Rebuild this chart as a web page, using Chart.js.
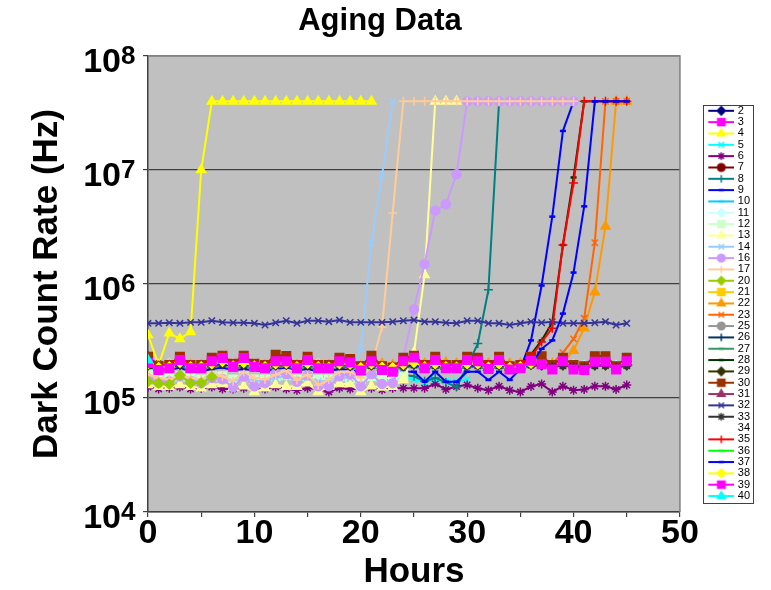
<!DOCTYPE html>
<html>
<head>
<meta charset="utf-8">
<script src="https://cdn.jsdelivr.net/npm/chart.js@4/dist/chart.umd.min.js"></script>
<style>
html,body{margin:0;padding:0;background:#ffffff;}
#wrap{width:771px;height:590px;}
</style>
</head>
<body>
<div id="wrap"><canvas id="c" width="771" height="590"></canvas></div>
<script>
// ---------------- DATA ----------------
// Dark count rates are written in units of 10^5 Hz (UNIT).
const UNIT = 1e5;
const hours = [0,1,2,3,4,5,6,7,8,9,10,11,12,13,14,15,16,17,18,19,20,21,22,23,24,25,26,27,28,29,30,31,32,33,34,35,36,37,38,39,40,41,42,43,44,45];

const s2  = [2.0,1.9,1.92,2.0,1.9,1.92,2.0,2.05,1.95,2.0, 1.95,1.92,2.0,2.02,1.92,2.0,1.92,1.9,2.0,1.98, 1.88,1.98,1.9,1.88,1.95,2.02,1.9,2.0,1.92,1.9, 2.0,1.98,1.9,1.98,1.88,1.92,2.0];
const s3  = [2.1,1.8,1.85,2.2,1.85,1.85,2.15,2.2,1.9,2.2, 1.9,1.85,2.1,2.15,1.85,2.1,1.85,1.85,2.15,2.1, 1.8,2.1,1.8,1.75,2.1,2.2,1.85,2.1,1.85,1.85, 2.1,2.15,1.85,2.1,1.8,1.85,2.1];
const s4  = [3.57,1.95,3.7,3.3,3.8,100,400,400,400,400, 400,400,400,400,400,400,400,400,400,400, 400,400];
const s5  = [1.55,1.45,1.42,1.5,1.45,1.4,1.5,1.48,1.38,1.5, 1.4,1.38,1.48,1.52,1.4,1.5,1.38,1.4,1.5,1.45, 1.38,1.5,1.42,1.46,1.5,1.45,1.38,1.45,1.4,1.4, 1.45];
const s6  = [1.25,1.2,1.22,1.25,1.2,1.22,1.25,1.2,1.2,1.22, 1.18,1.2,1.25,1.2,1.17,1.22,1.2,1.13,1.22,1.2, 1.2,1.22,1.18,1.22,1.22,1.22,1.22,1.33,1.19,1.26, 1.30,1.22,1.17,1.27,1.17,1.13,1.26,1.33,1.13,1.27, 1.17,1.19,1.27,1.27,1.19,1.30];
const s7  = [2.3,1.95,1.95,2.2,1.95,1.95,2.15,2.25,1.95,2.2, 1.95,1.9,2.15,2.2,1.9,2.2,1.95,1.9,2.15,2.1, 1.9,2.15,1.9,1.85,2.1,2.25,1.95,2.15,1.9,1.9, 2.15,2.15,1.9,2.15,1.9,1.95,2.15];
const s8  = [1.55,1.5,1.45,1.55,1.5,1.45,1.6,1.52,1.42,1.55, 1.45,1.42,1.55,1.58,1.45,1.55,1.42,1.45,1.55,1.52, 1.4,1.55,1.45,1.5,1.6,1.55,1.4,1.5,1.37,1.25, 1.9,3.0,8.9,400,400,400,400,400,400,400, 400];
const s9  = [1.85,1.8,1.75,1.85,1.7,1.7,1.8,1.85,1.75,1.8, 1.75,1.7,1.8,1.85,1.75,1.8,1.7,1.72,1.8,1.78, 1.65,1.6,1.47,1.6,1.7,1.7,1.39,1.7,1.39,1.39, 1.7,1.7,1.44,1.7,1.44,1.8,3.2,9.7,39,220, 400];
const s10 = [2.2,1.85,1.8,1.95,1.8,1.8,1.95,2.0,1.8,1.95, 1.8,1.8,1.9,1.95,1.8,1.9,1.8,1.78,1.9,1.88, 1.75,1.9,1.78,1.75,1.88,1.95,1.8,1.9,1.8,1.78, 1.9,1.9,1.78,1.9,1.76,1.8,1.92];
const s11 = [2.05,1.95,2.0,2.1,1.95,1.95,2.05,2.1,2.0,2.1, 2.0,1.95,2.05,2.05,1.95,2.05,2.0,1.95,2.05,2.05, 1.9,2.05,1.95,1.9,2.0,2.1,1.95,2.05,1.95,1.95, 2.05,2.05,1.95,2.05,1.9,1.95,2.05,2.02,2.0,2.02, 1.95,1.92,2.02,2.02,1.92,2.02];
const s12 = [1.6,1.5,1.48,1.55,1.5,1.45,1.55,1.55,1.45,1.55, 1.45,1.45,1.55,1.58,1.45,1.55,1.45,1.45,1.55,1.5, 1.42,1.55,1.48,1.5,1.55];
const s13 = [1.3,1.26,1.26,1.30,1.26,1.22,1.30,1.33,1.24,1.27, 1.13,1.22,1.30,1.26,1.26,1.35,1.13,1.26,1.33,1.33, 1.13,1.27,1.24,1.26,1.44,2.5,12,400,400,400];
const s14 = [1.5,1.42,1.4,1.52,1.45,1.4,1.55,1.5,1.38,1.52, 1.42,1.4,1.5,1.55,1.42,1.5,1.4,1.42,1.52,1.48, 2.75,23,90,400];
const s16 = [1.49,1.36,1.4,1.55,1.4,1.35,1.5,1.46,1.24,1.54, 1.27,1.35,1.65,1.62,1.39,1.58,1.27,1.27,1.55,1.62, 1.27,1.62,1.33,1.35,2.23,6,15,44,50,92, 400,400,400,400,400,400,400,400,400,400, 400];
const s17 = [1.6,1.5,1.45,1.6,1.5,1.45,1.65,1.55,1.4,1.7, 1.5,1.45,1.6,1.75,1.44,1.6,1.3,1.45,1.7,1.7, 1.5,1.9,4.2,42,400,400,400,400,400,400, 400,400,400,400,400,400,400,400,400,400, 400];
const s20 = [1.39,1.35,1.32,1.58,1.35,1.36,1.53];
const s21 = [2.05,1.85,1.9,2.1,1.9,1.88,2.05,2.15,1.9,2.1, 1.9,1.88,2.05,2.05,1.88,2.1,1.88,1.88,2.05,2.0, 1.85,2.05,1.88,1.85,2.05,2.15,1.9,2.05,1.9,1.88, 2.05,2.05,1.88,2.05,1.85,1.9,2.05];
const s22 = [2.05,1.9,1.95,2.1,1.95,1.95,2.05,2.15,1.95,2.1, 1.95,1.95,2.05,2.1,1.95,2.1,1.95,1.95,2.05,2.05, 1.9,2.1,2.0,1.95,2.05,2.15,2.0,2.05,2.05,2.0, 2.1,2.1,2.0,2.1,2.0,2.0,2.1,2.05,2.0,2.05, 2.6,4.1,8.5,32,400,400];
const s23 = [2.0,1.9,1.92,2.05,1.92,1.92,2.0,2.1,1.92,2.05, 1.92,1.92,2.0,2.05,1.92,2.05,1.92,1.9,2.0,2.0, 1.88,2.05,1.95,1.9,2.0,2.1,1.95,2.0,2.0,1.95, 2.05,2.05,1.95,2.05,1.95,1.95,2.05,2.0,2.0,2.5, 3.3,5.0,23,400,400,400];
const s25 = [2.0,1.9,1.9,2.05,1.9,1.9,2.0,2.1,1.92,2.05, 1.92,1.9,2.0,2.02,1.9,2.02,1.9,1.9,2.0,2.0, 1.85,2.0,1.88,1.85,2.0,2.05,1.9,2.0,1.9,1.88, 2.0,2.0,1.88,2.0,1.86,1.9,2.0];
const s26 = [1.95,1.88,1.9,1.98,1.88,1.9,1.95,2.0,1.9,1.98, 1.9,1.88,1.95,1.98,1.88,1.95,1.88,1.86,1.95,1.92, 1.85,1.95,1.86,1.84,1.92,1.98,1.86,1.95,1.88,1.86, 1.95,1.95,1.86,1.95,1.85,1.88,2.0];
const s27 = [1.9,1.8,1.82,1.9,1.8,1.8,1.88,1.92,1.82,1.9, 1.82,1.8,1.88,1.9,1.8,1.88,1.8,1.8,1.88,1.85, 1.78,1.88,1.8,1.78,1.85,1.9,1.8,1.88,1.8,1.78, 1.88,1.88,1.78,1.88,1.78,1.8,1.92];
const s28 = [2.0,1.92,1.92,2.0,1.92,1.92,2.0,2.02,1.92,2.0, 1.92,1.9,2.0,2.0,1.9,2.0,1.9,1.9,1.98,1.96, 1.88,1.98,1.9,1.88,1.95,2.0,1.9,1.98,1.9,1.9, 1.98,1.98,1.9,1.98,1.88,1.95,2.4,3.2,4.6,22, 86,400,400,400,400,400];
const s29 = [1.95,1.88,1.9,1.98,1.88,1.88,1.95,2.0,1.9,1.98, 1.9,1.88,1.95,1.98,1.88,1.95,1.88,1.88,1.95,1.92, 1.85,1.95,1.88,1.85,1.92,1.98,1.88,1.95,1.88,1.88, 1.95,1.95,1.88,1.95,1.86,1.88,1.98,1.95,1.9,1.95, 1.9,1.88,1.95,1.95,1.88,1.95];
const s30 = [2.3,1.9,1.95,2.3,1.95,1.95,2.25,2.35,2.0,2.35, 2.0,1.95,2.39,2.34,1.95,2.3,1.95,1.95,2.25,2.2, 1.9,2.35,1.9,1.85,2.25,2.35,1.95,2.3,1.95,1.95, 2.3,2.25,1.95,2.3,1.9,1.95,2.3,2.33,1.95,2.25, 1.95,1.9,2.33,2.33,1.9,2.25];
const s31 = [1.98,1.85,1.88,2.0,1.88,1.88,1.98,2.05,1.9,2.02, 1.9,1.88,1.98,2.0,1.88,2.0,1.88,1.86,1.98,1.95, 1.84,1.98,1.86,1.84,1.95,2.02,1.88,1.98,1.88,1.86, 1.98,1.98,1.86,1.98,1.85,1.88,2.0];
const s32 = [4.52,4.52,4.57,4.52,4.61,4.61,4.76,4.61,4.57,4.57, 4.52,4.37,4.57,4.76,4.52,4.76,4.76,4.67,4.83,4.61, 4.61,4.61,4.61,4.67,4.76,4.83,4.67,4.67,4.57,4.52, 4.76,4.76,4.52,4.52,4.37,4.52,4.67,4.57,4.67,4.52, 4.52,4.52,4.57,4.67,4.37,4.52];
const s33 = [1.92,1.85,1.88,1.95,1.85,1.85,1.92,1.98,1.88,1.95, 1.88,1.85,1.92,1.95,1.85,1.92,1.85,1.85,1.92,1.9, 1.82,1.92,1.85,1.82,1.9,1.95,1.85,1.92,1.85,1.85, 1.92,1.92,1.85,1.92,1.83,1.86,1.95,1.92,1.88,1.92, 1.88,1.85,1.92,1.92,1.85,1.92];
const s34 = [];
const s35 = [2.15,1.9,1.95,2.3,1.95,1.9,2.2,2.3,1.95,2.25, 1.95,1.9,2.2,2.2,1.95,2.3,1.95,1.9,2.2,2.15, 1.85,2.15,1.9,1.85,2.1,2.3,1.95,2.2,1.95,1.9, 2.2,2.2,1.95,2.2,1.9,1.95,2.3,3.1,4.1,22, 77,400,400,400,400,400];
const s36 = [1.95,1.85,1.85,1.95,1.85,1.85,1.92,1.98,1.85,1.95, 1.85,1.85,1.92,1.95,1.85,1.92,1.85,1.83,1.92,1.9, 1.8,1.92,1.83,1.8,1.9,1.95,1.83,1.92,1.83,1.82, 1.92,1.92,1.82,1.92,1.8,1.84,1.95];
const s37 = [1.95,1.9,1.88,1.95,1.88,1.88,1.95,1.98,1.9,1.95, 1.9,1.88,1.95,1.95,1.88,1.95,1.88,1.88,1.95,1.92, 1.85,1.92,1.88,1.85,1.9,1.95,1.86,1.92,1.86,1.86, 1.92,1.92,1.86,1.92,1.85,1.88,1.95,2.7,3.2,5.5, 12.6,48,400,400,400,400];
const s38 = [2.0,1.85,1.88,2.05,1.88,1.88,2.0,2.1,1.9,2.05, 1.9,1.88,2.0,2.02,1.88,2.02,1.88,1.86,2.0,1.98, 1.84,2.0,1.86,1.84,1.98,2.05,1.88,2.0,1.88,1.86, 2.0,2.0,1.86,2.0,1.85,1.88,2.02];
const s39 = [2.03,1.76,1.82,2.15,1.82,1.82,2.10,2.24,1.88,2.24, 1.88,1.82,2.10,2.10,1.82,2.15,1.82,1.82,2.10,2.05, 1.74,2.10,1.76,1.70,2.10,2.26,1.82,2.15,1.82,1.82, 2.15,2.10,1.80,2.15,1.78,1.82,2.12,1.98,1.78,2.10, 1.78,1.76,2.08,2.08,1.78,2.10];
const s40 = [2.15];

const seriesNames  = ['2','3','4','5','6','7','8','9','10','11','12','13','14','16','17','20','21','22','23','25','26','27','28','29','30','31','32','33','34','35','36','37','38','39','40'];
const seriesValues = [s2,s3,s4,s5,s6,s7,s8,s9,s10,s11,s12,s13,s14,s16,s17,s20,s21,s22,s23,s25,s26,s27,s28,s29,s30,s31,s32,s33,s34,s35,s36,s37,s38,s39,s40];

// y tick labels are "10" with a superscript exponent
const yTickValues = [1e4,1e5,1e6,1e7,1e8];
const yTickBase   = ['10','10','10','10','10'];
const yTickExp    = ['4','5','6','7','8'];
const xTickLabels = ['0','10','20','30','40','50'];

// ---------------- STYLES ----------------
const seriesColors = ['#000080','#FF00FF','#FFFF00','#00FFFF','#800080','#800000','#008080','#0000FF','#00CCFF','#CCFFFF','#CCFFCC','#FFFF99','#99CCFF','#CC99FF','#FFCC99','#99CC00','#FFCC00','#FF9900','#FF6600','#969696','#003366','#339966','#003300','#333300','#993300','#993366','#333399','#333333',null,'#FF0000','#00FF00','#0000FF','#FFFF00','#FF00FF','#00FFFF'];
const seriesMarkers = ['rectRot','rect','triangle','crossRot','star','circle','cross','line','line','rectRot','rect','triangle','crossRot','circle','cross','rectRot','rect','triangle','crossRot','circle','cross','line','line','rectRot','rect','triangle','crossRot','star',null,'cross','line','line','rectRot','rect','triangle'];
const markerSize = {rectRot:4.8, rect:6, triangle:5.2, crossRot:4.5, star:4.5, circle:4.5, cross:4.5, line:3};

const FONT = "'Liberation Sans', Arial, Helvetica, sans-serif";
Chart.defaults.font.family = FONT;
Chart.defaults.color = '#000';

function makeIcon(col, mk) {
  const c = document.createElement('canvas');
  c.width = 56; c.height = 12;
  const g = c.getContext('2d');
  if (col) {
    g.strokeStyle = col; g.lineWidth = 2;
    g.beginPath(); g.moveTo(30, 6); g.lineTo(56, 6); g.stroke();
    if (mk) {
      g.fillStyle = col; g.strokeStyle = col;
      const bw = mk === 'line' ? 2.5 : 1.5;
      g.lineWidth = bw;
      Chart.helpers.drawPoint(g, {pointStyle: mk, radius: markerSize[mk] * 0.85, rotation: 0, borderWidth: bw}, 43, 6);
    }
  }
  return c;
}
const legendIcons = seriesNames.map((n, i) => makeIcon(seriesColors[i], seriesMarkers[i]));

const datasets = seriesNames.map((name, i) => {
  const col = seriesColors[i] || 'rgba(0,0,0,0)';
  const mk = seriesMarkers[i];
  return {
    label: name,
    data: seriesValues[i].map((v, j) => ({x: hours[j], y: v * UNIT})),
    borderColor: col,
    backgroundColor: col,
    borderWidth: 2,
    pointStyle: mk || 'circle',
    pointRadius: mk ? markerSize[mk] : 0,
    pointHoverRadius: mk ? markerSize[mk] : 0,
    pointBorderWidth: mk === 'line' ? 2.5 : 1.5,
    pointBackgroundColor: col,
    pointBorderColor: col,
    tension: 0,
    fill: false,
    order: seriesNames.length - i
  };
});

const decor = {
  id: 'decor',
  beforeDraw(chart) {
    const {ctx, chartArea: a} = chart;
    ctx.save();
    ctx.fillStyle = '#C0C0C0';
    ctx.fillRect(a.left, a.top, a.right - a.left, a.bottom - a.top);
    ctx.restore();
  },
  beforeDatasetsDraw(chart) {
    const {ctx, chartArea: a} = chart;
    ctx.save();
    ctx.strokeStyle = '#808080';
    ctx.lineWidth = 1.5;
    ctx.beginPath();
    ctx.moveTo(a.left, a.top); ctx.lineTo(a.right, a.top); ctx.lineTo(a.right, a.bottom);
    ctx.stroke();
    ctx.restore();
  },
  afterDraw(chart) {
    const ctx = chart.ctx;
    // superscript exponents of the y tick labels
    const ys = chart.scales.y;
    ctx.save();
    ctx.fillStyle = '#000';
    ctx.font = "bold 26px " + FONT;
    ctx.textAlign = 'left';
    ctx.textBaseline = 'middle';
    yTickValues.forEach((v, i) => {
      const py = ys.getPixelForValue(v);
      ctx.fillText(yTickExp[i], 121, py + 1);
    });
    ctx.restore();
    // legend frame
    const L = chart.legend;
    if (!L || !L.legendHitBoxes || !L.legendHitBoxes.length) return;
    const hb = L.legendHitBoxes;
    const top = Math.round(hb[0].top) + 0.5;
    const bottom = Math.round(hb[hb.length - 1].top + 12.5) + 0.5;
    const left = Math.round(L.left + 23) + 0.5;
    ctx.save();
    ctx.strokeStyle = '#404040';
    ctx.lineWidth = 1;
    ctx.strokeRect(left, top, 50, bottom - top);
    ctx.restore();
  }
};

new Chart(document.getElementById('c'), {
  type: 'line',
  data: {datasets},
  plugins: [decor],
  options: {
    responsive: false,
    animation: false,
    devicePixelRatio: 1,
    events: [],
    layout: {padding: {left: 0, right: 11, top: 0, bottom: 0}},
    plugins: {
      tooltip: {enabled: false},
      title: {
        display: true, text: 'Aging Data', color: '#000',
        font: {family: FONT, size: 31, weight: 'bold', lineHeight: 1},
        padding: {top: 5.5, bottom: 19.5}
      },
      legend: {
        position: 'right', align: 'center',
        title: {display: true, text: ' ', font: {size: 14, lineHeight: 1.2}, padding: 0},
        labels: {
          usePointStyle: true, pointStyleWidth: 52, boxHeight: 11,
          font: {family: FONT, size: 11, lineHeight: 1}, color: '#000', padding: 0.33,
          generateLabels: (chart) => chart.data.datasets.map((ds, i) => ({
            text: ds.label, pointStyle: legendIcons[i], fillStyle: 'rgba(0,0,0,0)',
            strokeStyle: 'rgba(0,0,0,0)', lineWidth: 0, hidden: false, datasetIndex: i, fontColor: '#000'
          }))
        }
      }
    },
    scales: {
      x: {
        type: 'linear', min: 0, max: 50,
        afterFit: (s) => { s.height = 78; },
        ticks: {
          stepSize: 5, autoSkip: false, maxRotation: 0, minRotation: 0, padding: 0, color: '#000',
          font: {family: FONT, size: 34, weight: 'bold', lineHeight: 1},
          callback: (v) => xTickLabels.includes(String(v)) ? String(v) : ''
        },
        grid: {drawOnChartArea: false, drawTicks: true, tickLength: 5, tickColor: '#404040', lineWidth: 1.2},
        border: {color: '#404040', width: 1.5},
        title: {display: true, text: 'Hours', color: '#000', font: {family: FONT, size: 35, weight: 'bold', lineHeight: 1}, padding: {top: 0, bottom: 0}}
      },
      y: {
        type: 'logarithmic', min: 1e4, max: 1e8,
        afterBuildTicks: (s) => { s.ticks = yTickValues.map(v => ({value: v})); },
        afterFit: (s) => { s.width = 148; },
        ticks: {
          autoSkip: false, padding: 22, labelOffset: 7, color: '#000',
          font: {family: FONT, size: 34, weight: 'bold', lineHeight: 1},
          callback: (v, idx) => yTickBase[idx] || ''
        },
        grid: {
          color: (c) => (c.tick && c.tick.value === 1e8) ? '#808080' : '#404040',
          lineWidth: 1.2, drawTicks: true, tickLength: 5, tickColor: '#404040'
        },
        border: {color: '#404040', width: 1.5},
        title: {display: true, text: 'Dark Count Rate (Hz)', color: '#000', font: {family: FONT, size: 35, weight: 'bold', lineHeight: 1}, padding: {top: 29.5, bottom: 0}}
      }
    }
  }
});
</script>
</body>
</html>
